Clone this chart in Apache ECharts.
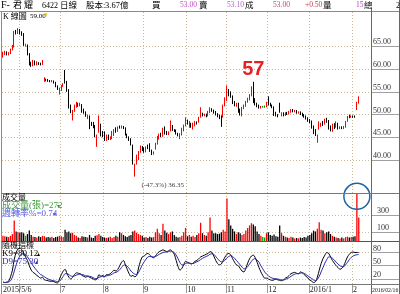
<!DOCTYPE html>
<html><head><meta charset="utf-8">
<script src="https://cdn.jsdelivr.net/npm/echarts@6/dist/echarts.min.js"></script>
<style>html,body{margin:0;padding:0;background:#fff}#c{width:400px;height:294px}</style>
</head><body><div id="c"></div>
<script>
const opens = [
62.8,63.4,63.6,63.2,63.5,64.3,64.9,68.2,67.9,68.5,
68.1,67.7,65.3,65.2,63.3,61.0,60.8,61.6,61.0,61.3,
61.1,61.0,57.4,57.7,57.6,57.4,57.3,57.4,57.0,56.2,
54.6,55.5,56.3,59.3,57.2,55.3,51.8,49.3,50.8,51.8,
52.4,52.0,52.1,50.9,50.5,49.2,49.6,48.0,48.2,47.5,
43.2,46.3,47.8,46.0,46.1,44.4,45.4,44.6,44.8,45.6,
47.0,46.4,47.2,47.1,47.3,47.0,45.6,45.0,44.6,43.2,
36.9,39.3,40.3,41.8,42.9,42.5,41.9,43.2,43.5,42.1,
41.5,42.5,43.6,44.7,45.6,45.3,47.2,46.2,45.7,46.5,
47.5,46.6,46.5,45.8,44.8,45.6,46.5,47.6,48.7,47.3,
48.0,46.9,47.6,48.3,48.4,49.5,50.2,49.8,50.0,49.8,
50.5,51.1,50.9,50.6,50.1,49.8,49.6,49.5,52.0,53.3,
55.3,54.9,54.0,52.8,51.9,52.4,51.1,50.4,51.4,51.9,
52.8,53.3,54.2,56.5,53.0,52.4,52.0,51.6,51.7,51.7,
51.8,52.7,52.4,52.0,51.6,50.4,49.9,51.8,49.8,50.3,
49.9,50.4,50.2,50.6,51.0,50.7,50.8,50.4,50.5,50.2,
49.9,49.6,49.2,48.8,48.5,47.4,46.4,43.9,46.9,47.5,
48.4,48.0,49.1,48.6,47.4,46.4,47.9,47.3,48.0,47.0,
47.2,47.0,47.3,48.6,49.8,49.5,49.7,49.6,51.2,52.5
];
const closes = [
63.4,63.6,63.2,63.5,64.3,64.9,68.2,67.9,68.5,68.1,
67.7,65.3,65.3,63.3,61.0,60.7,61.6,61.0,61.3,61.1,
61.0,61.8,57.7,57.6,57.4,57.3,57.4,57.0,56.2,55.6,
55.7,56.3,56.6,57.0,55.2,51.6,50.6,50.7,51.9,52.4,
52.0,52.2,50.6,50.4,49.7,49.8,48.1,47.8,47.2,45.2,
45.4,47.5,45.4,45.7,44.4,45.4,44.6,44.9,46.2,46.5,
46.2,47.2,47.1,47.4,47.1,45.6,45.0,44.4,43.4,39.2,
38.9,41.0,41.8,42.9,42.2,41.8,42.8,42.6,42.0,41.3,
41.7,43.6,45.1,45.5,45.2,46.9,45.8,45.7,46.0,47.9,
46.6,46.4,45.8,45.4,45.7,46.9,47.6,49.1,48.0,48.4,
47.3,48.0,48.4,48.0,49.3,50.2,49.8,49.9,49.6,50.6,
51.0,50.8,50.4,50.0,49.6,49.2,49.0,52.0,53.6,55.0,
54.2,53.9,52.5,52.0,52.4,50.6,50.2,51.5,52.0,52.8,
53.5,54.2,55.8,52.7,52.3,51.8,51.5,51.7,51.7,51.7,
52.6,52.3,52.0,51.6,49.9,49.8,49.6,50.6,50.3,49.8,
50.3,50.1,50.6,51.0,50.7,50.8,50.4,50.5,50.1,49.8,
49.5,49.1,48.6,48.3,47.1,45.9,45.5,45.4,48.3,48.0,
47.7,48.9,48.4,46.9,46.5,47.8,47.0,48.3,46.9,47.2,
47.0,47.3,48.4,49.5,49.4,49.6,49.5,49.5,52.5,53.0
];
const lows = [
62.5,63.1,63.0,63.0,63.3,64.1,64.7,67.6,67.7,67.6,
67.3,65.1,64.9,63.0,60.8,60.5,60.6,60.8,60.8,60.9,
60.8,60.9,57.2,57.3,57.2,57.1,57.1,56.8,56.0,55.4,
54.4,55.2,56.1,56.8,55.0,51.3,50.3,48.7,50.6,51.5,
51.7,51.8,50.4,50.2,49.5,49.0,46.8,47.5,47.0,45.0,
42.9,46.0,45.2,45.0,44.2,44.2,44.4,44.4,44.6,45.3,
46.0,46.2,46.9,46.9,46.8,45.4,44.8,44.2,43.2,39.0,
36.35,39.0,40.0,41.6,42.0,41.6,41.7,42.4,41.8,41.1,
41.2,42.3,43.4,44.5,45.0,45.1,45.6,45.5,45.5,46.3,
46.4,46.2,45.6,45.2,44.6,45.4,46.3,47.4,47.8,47.1,
47.1,46.7,47.4,47.8,48.2,49.3,49.6,49.6,49.4,49.6,
50.3,50.6,50.2,49.8,49.4,49.0,47.3,49.3,51.8,53.0,
54.0,53.7,52.3,51.8,51.7,50.4,49.8,49.6,51.2,51.7,
52.6,53.1,54.0,52.5,52.0,51.6,51.3,51.3,51.5,51.5,
51.6,52.0,51.8,51.4,49.7,49.6,49.4,50.4,49.6,49.6,
49.7,49.9,50.0,50.4,50.5,50.5,50.2,50.2,49.9,49.6,
49.3,48.9,48.4,48.1,46.9,45.7,45.3,43.8,46.7,47.3,
47.5,47.8,48.2,46.7,46.3,46.2,46.8,47.1,46.7,46.8,
46.8,46.8,47.1,48.4,49.2,49.3,49.3,49.3,51.0,52.4
];
const highs = [
63.8,64.0,63.9,63.7,64.5,65.3,68.4,68.6,69.0,68.8,
68.3,67.9,65.6,65.4,63.5,61.6,62.0,61.9,61.7,61.5,
61.4,62.0,58.2,57.9,57.8,57.6,57.6,57.5,57.2,56.4,
55.9,56.5,56.9,59.8,57.4,55.6,52.2,51.0,52.2,52.8,
52.6,52.6,52.3,51.3,50.7,50.0,49.8,48.4,48.4,47.7,
45.6,49.8,48.0,46.4,46.3,45.6,45.6,45.2,46.4,46.8,
47.2,47.4,47.6,47.6,47.5,47.2,45.8,45.2,44.8,43.4,
39.2,41.2,42.0,43.2,43.1,42.8,43.0,43.4,43.7,42.3,
41.9,43.8,45.3,45.8,46.0,47.1,47.4,46.4,46.3,48.7,
47.7,46.8,46.7,46.0,45.9,47.1,47.8,49.4,48.9,48.6,
48.2,48.2,48.6,48.5,49.5,51.6,50.4,50.2,50.2,50.8,
51.6,51.4,51.1,50.8,50.3,50.0,49.8,52.2,53.8,56.4,
55.6,55.1,54.2,53.0,52.6,52.6,51.3,51.7,52.2,53.0,
53.7,54.5,56.2,57.2,53.6,52.6,52.2,51.9,51.9,52.0,
52.8,54.0,52.6,52.2,51.8,50.6,50.1,52.6,50.5,50.5,
50.5,50.6,50.8,51.2,51.2,51.0,51.0,50.7,50.7,50.4,
50.1,49.8,49.4,49.0,48.7,47.6,46.8,45.6,48.5,48.2,
48.6,49.1,49.3,48.8,47.6,48.0,48.1,48.5,48.2,47.4,
47.4,47.5,48.6,49.7,50.0,49.8,49.8,49.8,52.8,54.0
];
const volumes = [
60,55,50,45,60,80,235,110,100,95,
100,90,60,80,120,70,50,45,40,55,
45,60,55,40,45,40,50,35,45,50,
60,55,45,130,100,110,90,95,70,60,
40,35,55,50,45,40,70,40,35,60,
65,80,60,45,40,35,40,50,35,45,
60,50,100,90,70,55,45,60,70,110,
120,95,80,70,60,40,45,35,50,40,
45,100,140,90,70,200,120,95,80,100,
110,70,50,40,45,60,100,150,55,70,
50,60,45,70,90,210,90,70,60,100,
270,120,90,90,80,85,100,130,110,490,
250,180,140,110,80,100,90,70,80,120,
150,180,205,190,170,110,80,60,45,40,
90,100,70,60,75,55,50,180,90,60,
50,40,35,50,40,30,35,30,40,35,
45,40,60,70,90,120,110,140,215,130,
120,90,100,110,80,60,50,40,35,30,
40,30,45,50,40,45,50,55,620,272
];
const k9 = [
14,12,13,15,25,40,65,80,88,90,
86,78,70,62,50,40,35,32,28,25,
22,24,18,17,16,15,15,14,12,11,
20,30,38,42,32,24,20,24,30,34,
33,32,28,26,24,26,24,22,20,18,
20,30,26,28,25,30,30,32,36,40,
38,42,50,58,62,52,42,32,26,28,
25,28,45,60,70,72,76,78,74,70,
68,72,78,82,84,86,84,82,84,86,
82,76,62,48,40,44,52,60,58,56,
54,56,60,62,66,70,72,74,76,78,
82,80,72,62,55,52,54,62,70,76,
78,74,66,58,52,50,44,38,36,44,
56,66,72,74,68,58,46,36,28,22,
22,20,18,17,18,20,18,17,16,18,
22,24,28,32,34,35,33,32,36,34,
30,26,22,18,15,12,14,24,40,55,
66,74,80,78,70,62,56,50,46,42,
44,50,60,70,76,80,81,80,80,80.12
];
const d9 = [
12,12,12,13,16,24,38,52,64,72,
77,77,75,70,64,56,50,44,39,34,
30,28,25,22,20,18,17,16,15,14,
15,20,26,32,32,30,27,26,27,29,
30,31,30,29,27,27,26,25,23,21,
21,24,25,26,26,27,28,29,31,34,
35,37,41,46,51,52,49,44,38,34,
31,30,35,43,52,59,65,70,71,71,
70,71,73,76,78,80,81,81,82,83,
82,80,74,66,57,52,52,55,56,56,
55,55,57,59,61,64,67,69,71,73,
76,77,76,71,66,61,59,60,63,68,
71,73,71,67,62,57,52,47,43,44,
48,54,60,65,66,63,58,50,43,36,
31,27,24,22,21,20,20,19,18,18,
19,21,23,26,29,31,32,32,33,34,
33,30,27,24,21,18,16,19,26,36,
46,56,64,70,70,67,63,58,54,50,
48,48,52,58,64,69,72,74,75,75.3
];
const monthLineIdx = [9,31,54,75,98,119,141,163,186];
const dateTickIdx = [0,31,54,75,98,119,141,163,186];
const dateTickText = ['2015/5/6','7','8','9','10','11','12','2016/1','2'];
const lastDateText = '2016/02/16';
const priceTicks = [40,45,50,55,60,65];
const volTicks = [100,300];
const kdTicks = [20,50,80];
const slotCount = 196;
const peakIdx = 133, peakText = '57';
const lowText = '(-47.3%) 36.35';
const turnoverText = '0.74';
const circleIdx = 188;

const cats = Array.from({length: slotCount}, (_, i) => String(i));
const candleData = opens.map((o, i) => [o, closes[i], lows[i], highs[i]]);
const lowIdx = lows.indexOf(Math.min(...lows));
const last = closes.length - 1;
const upColor = '#ff0000', downColor = '#000000', flatColor = '#00a000';
const barColor = i => closes[i] > opens[i] ? upColor : (closes[i] < opens[i] ? downColor : flatColor);

const SERIF = '"Liberation Serif","Noto Sans CJK TC",serif';
const gridLine = {show: true, lineStyle: {color: '#cbb894', type: [1, 2], width: 1}};
function xAx(gi, withLabels) {
  return {
    type: 'category', gridIndex: gi, data: cats, boundaryGap: true,
    axisLine: {show: false},
    axisTick: withLabels ? {show: true, interval: i => monthLineIdx.indexOf(i) >= 0, length: 9, lineStyle: {color: '#999'}} : {show: false},
    axisLabel: withLabels ? {
      show: true, interval: i => dateTickIdx.indexOf(i) >= 0,
      formatter: (v) => { const k = dateTickIdx.indexOf(Number(v)); return k >= 0 ? dateTickText[k] : ''; },
      align: 'left', margin: 2, fontSize: 8, color: '#222', fontFamily: SERIF
    } : {show: false},
    splitLine: Object.assign({interval: i => monthLineIdx.indexOf(i) >= 0}, gridLine)
  };
}
function yAx(gi, min, max, ticks, fmt, margin) {
  return {
    type: 'value', gridIndex: gi, position: 'right', min: min, max: max,
    axisLine: {show: false},
    axisTick: {show: true, customValues: ticks, length: 28, lineStyle: {color: '#a0a0a0'}},
    axisLabel: {customValues: ticks, formatter: fmt, margin: margin, align: 'left', verticalAlign: 'bottom',
      fontSize: 8, color: '#333', fontFamily: SERIF},
    splitLine: gridLine
  };
}
function txt(x, y, text, fill, size) {
  return {type: 'text', x: x, y: y, silent: true, z: 100,
    style: {text: text, fill: fill || '#000', font: (size || 9) + 'px ' + SERIF, verticalAlign: 'middle', align: 'left'}};
}
function ln(x1, y1, x2, y2, c) {
  return {type: 'line', silent: true, z: 99, shape: {x1, y1, x2, y2}, style: {stroke: c, lineWidth: 1}};
}

const chart = echarts.init(document.getElementById('c'), null, {renderer: 'canvas'});
chart.setOption({
  animation: false,
  backgroundColor: '#fff',
  grid: [
    {left: 2, right: 29, top: 12, height: 181},
    {left: 2, right: 29, top: 193, height: 48},
    {left: 2, right: 29, top: 241, height: 43}
  ],
  xAxis: [xAx(0, false), xAx(1, false), xAx(2, true)],
  yAxis: [
    yAx(0, 32.76, 72.54, priceTicks, v => v.toFixed(2), 2),
    yAx(1, 0, 553, volTicks, v => String(v), 6),
    yAx(2, 8.7, 106, kdTicks, v => String(v), 2)
  ],
  series: [
    {type: 'candlestick', xAxisIndex: 0, yAxisIndex: 0, data: candleData, barWidth: 1,
      itemStyle: {color: upColor, color0: downColor, borderColor: upColor, borderColor0: downColor, borderColorDoji: flatColor, borderWidth: 1},
      markPoint: {symbol: 'circle', symbolSize: 0, animation: false,
        data: [
          {coord: [String(peakIdx), highs[peakIdx]], label: {show: true, formatter: peakText, position: 'top', distance: 2,
            color: '#e82020', fontSize: 20, fontWeight: 'bold', fontFamily: 'Arial,"Liberation Sans",sans-serif'}},
          {coord: [String(lowIdx), lows[lowIdx]], label: {show: true, formatter: lowText, position: 'bottom', distance: 5,
            offset: [28, 0], color: '#444', fontSize: 7, fontFamily: SERIF}}
        ]}
    },
    {type: 'bar', xAxisIndex: 1, yAxisIndex: 1, barWidth: 1.3,
      data: volumes.map((v, i) => ({value: v, itemStyle: {color: barColor(i)}})),
      markPoint: {symbol: 'circle', symbolSize: 26, animation: false,
        itemStyle: {color: 'rgba(0,0,0,0)', borderColor: '#1f64a0', borderWidth: 1.5},
        label: {show: false},
        data: [{coord: [String(circleIdx), 515]}]}
    },
    {type: 'line', xAxisIndex: 2, yAxisIndex: 2, data: k9, symbol: 'none', smooth: 0.3,
      lineStyle: {color: '#000', width: 1}},
    {type: 'line', xAxisIndex: 2, yAxisIndex: 2, data: d9, symbol: 'none', smooth: 0.3,
      lineStyle: {color: '#2828a8', width: 1}}
  ],
  graphic: [
    ln(0, 11.5, 400, 11.5, '#d86a6a'),
    ln(1.5, 11.5, 1.5, 294, '#d86a6a'),
    ln(371.5, 8, 371.5, 294, '#d23a3a'),
    ln(399.5, 0, 399.5, 294, '#d23a3a'),
    ln(1.5, 193.5, 399, 193.5, '#777'),
    ln(1.5, 241.5, 399, 241.5, '#555'),
    ln(1.5, 284.5, 399, 284.5, '#777'),
    txt(1, 5.5, 'F-', '#000', 10),
    txt(13, 5.5, '君', '#000', 9),
    txt(24, 5.5, '耀', '#000', 9),
    txt(42, 5.5, '6422', '#000', 8),
    txt(60, 5.5, '日線', '#000', 8.5),
    txt(86, 5.5, '股本:', '#000', 8.5),
    txt(105, 5.5, '3.67億', '#000', 8.5),
    txt(152, 5.5, '買', '#000', 8.5),
    txt(180, 5.5, '53.00', '#c050c0', 7.5),
    txt(199, 5.5, '賣', '#000', 8.5),
    txt(227, 5.5, '53.10', '#b060d0', 7.5),
    txt(245, 5.5, '成', '#000', 8.5),
    txt(273, 5.5, closes[last].toFixed(2), '#c04870', 7.5),
    txt(305, 5.5, '+' + (closes[last] - closes[last - 1]).toFixed(2), '#d03050', 7.5),
    txt(323, 5.5, '量', '#000', 8.5),
    txt(356, 5.5, '15', '#b040c0', 7.5),
    txt(364, 5.5, '總', '#000', 8.5),
    txt(396, 5.5, '2', '#000', 8),
    txt(3, 16.5, 'K 線圖', '#000', 8),
    txt(30, 16.5, '59.00', '#000', 7),
    txt(44, 15.5, '▾', '#e0c000', 7),
    txt(2, 197.5, '成交量', '#000', 8),
    txt(2, 205.5, '成交量(張)=' + volumes[last], '#3a9a3a', 9),
    txt(57, 206, '▾', '#3a9a3a', 6),
    txt(2, 213.5, '週轉率%=' + turnoverText, '#5a5ae0', 9),
    txt(53, 214, '▾', '#5a5ae0', 6),
    txt(2, 245.5, '隨機指標', '#000', 8),
    txt(2, 253.5, 'K9=' + k9[last].toFixed(2), '#000', 9),
    txt(37, 254, '▴', '#000', 6),
    txt(2, 262, 'D9=' + d9[last].toFixed(2), '#3030b0', 9),
    txt(35, 262.5, '▴', '#3030b0', 6),
    txt(372, 290, lastDateText, '#222', 5.8)
  ]
});
</script>
</body></html>
